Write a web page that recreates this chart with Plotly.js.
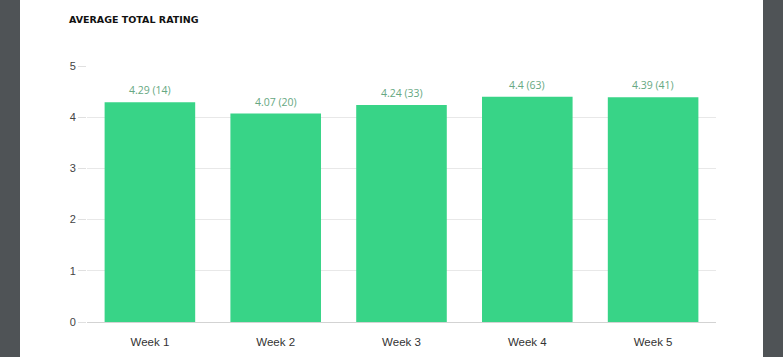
<!DOCTYPE html>
<html>
<head>
<meta charset="utf-8">
<script src="https://cdn.plot.ly/plotly-3.0.1.min.js"></script>
<style>
html,body{margin:0;padding:0;background:#4f5356;width:783px;height:357px;overflow:hidden;}
#chart{position:absolute;left:20px;top:0;width:743px;height:357px;background:#fff;}
</style>
</head>
<body>
<div id="chart"></div>
<script>
const categories = ["Week 1", "Week 2", "Week 3", "Week 4", "Week 5"];
const ratings = [4.29, 4.07, 4.24, 4.4, 4.39];
const counts = [14, 20, 33, 63, 41];
const yTicks = [0, 1, 2, 3, 4, 5];

const labels = ratings.map((r, i) => r + " (" + counts[i] + ")");

const trace = {
  type: "bar",
  x: categories,
  y: ratings,
  marker: {color: "#38d487", line: {width: 0}},
  hoverinfo: "skip"
};

const annotations = categories.map((c, i) => ({
  x: c, y: ratings[i], xref: "x", yref: "y",
  text: labels[i], showarrow: false,
  yanchor: "bottom", yshift: 3,
  font: {family: "Open Sans, sans-serif", size: 10.5, color: "#66a882"}
}));

const layout = {
  width: 743, height: 357,
  margin: {l: 66.5, r: 46.5, t: 66, b: 35},
  paper_bgcolor: "#ffffff",
  plot_bgcolor: "#ffffff",
  bargap: 0.28,
  showlegend: false,
  title: {
    text: "<b>AVERAGE TOTAL RATING</b>",
    xref: "container", yref: "container",
    x: 49/743, xanchor: "left",
    y: 1 - 20/357, yanchor: "middle",
    font: {family: "DejaVu Sans, sans-serif", size: 9.5, color: "#111"}
  },
  xaxis: {
    type: "category",
    showgrid: false,
    showline: true, linecolor: "#d3d3d3", linewidth: 1,
    ticks: "outside", ticklen: 9, tickcolor: "rgba(0,0,0,0)",
    tickfont: {family: "Liberation Sans, Arial, sans-serif", size: 11.5, color: "#333"},
    fixedrange: true
  },
  yaxis: {
    range: [0, 5],
    tickvals: yTicks,
    ticktext: yTicks.map(String),
    showgrid: true, gridcolor: "#e8e8e8", gridwidth: 1,
    zeroline: false,
    ticks: "outside", ticklen: 8, tickcolor: "#e0e0e0",
    tickfont: {family: "Liberation Sans, Arial, sans-serif", size: 11, color: "#444"},
    fixedrange: true
  },
  annotations: annotations
};

Plotly.newPlot("chart", [trace], layout, {displayModeBar: false, staticPlot: true});
</script>
</body>
</html>
